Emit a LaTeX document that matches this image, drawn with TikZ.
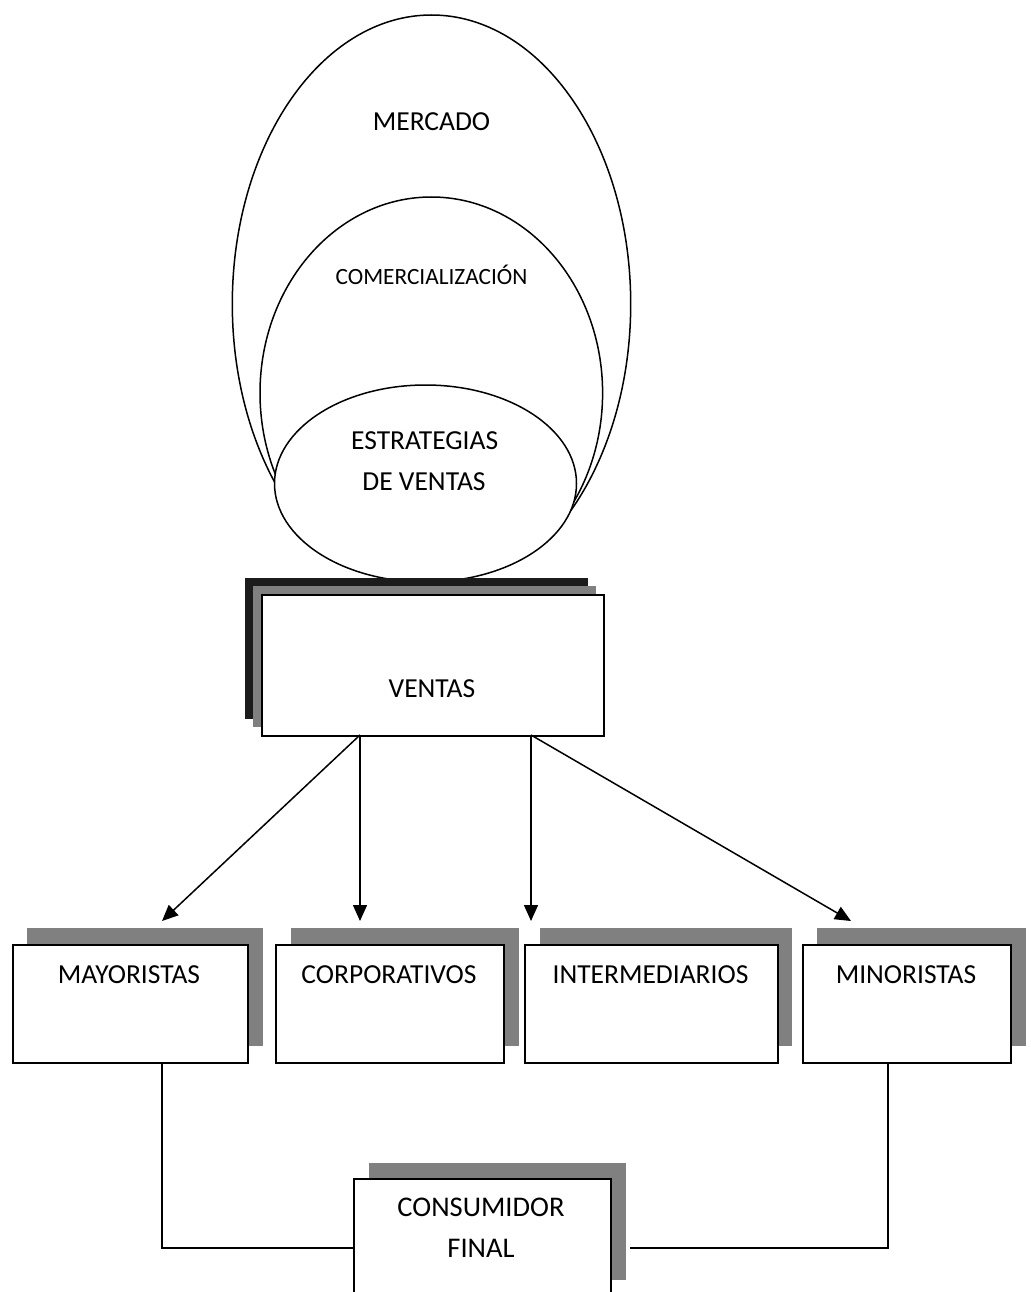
\documentclass[tikz,border=0pt]{standalone}
\usepackage{fontspec}
\setmainfont{Carlito}
\usetikzlibrary{arrows.meta,shapes.geometric}
\definecolor{shadowgray}{HTML}{808080}
\definecolor{darkshadow}{HTML}{1C1C1C}
\begin{document}
\begin{tikzpicture}[x=1pt,y=-1pt,
  oval/.style={ellipse, draw=black, line width=1.5pt, inner sep=0pt},
  boxline/.style={rectangle, draw=black, line width=1.8pt, fill=white, inner sep=0pt, anchor=north west},
  shadebox/.style={rectangle, fill=shadowgray, draw=none, inner sep=0pt, anchor=north west},
  darkbox/.style={rectangle, fill=darkshadow, draw=none, inner sep=0pt, anchor=north west},
  lbl/.style={anchor=base, inner sep=0pt, font=\fontsize{27.5}{33}\selectfont},
  lblbig/.style={anchor=base, inner sep=0pt, font=\fontsize{28.5}{34}\selectfont},
  lblsmall/.style={anchor=base, inner sep=0pt, font=\fontsize{23.3}{28}\selectfont},
  arr/.style={line width=1.5pt, -{Triangle[length=16pt,width=14pt]}},
  link/.style={line width=1.5pt}]
\useasboundingbox (0,0) rectangle (1030,1292);
\clip (0,0) rectangle (1030,1292);
\fill[white] (0,0) rectangle (1030,1292);

% nested ellipses
\begin{scope}
  \clip (0,0) rectangle (1030,511);
  \node[oval, minimum width=398.4pt, minimum height=578pt] (mercado) at (431.5,304) {};
  \node[oval, minimum width=342.6pt, minimum height=392pt] (comerc) at (431.3,393) {};
\end{scope}
\node[oval, fill=white, minimum width=302pt, minimum height=197pt] (estrat) at (425.5,483.5) {};

\node[lbl] (tmercado) at (431.5,130.2) {MERCADO};
\node[lblsmall] (tcomerc) at (431.5,284) {COMERCIALIZACIÓN};
\node[lbl] (testrat1) at (424.7,449.7) {ESTRATEGIAS};
\node[lbl] (testrat2) at (424,490.4) {DE VENTAS};

% VENTAS box with stacked shadows
\node[darkbox, minimum width=343pt, minimum height=141pt] (vsh1) at (245,578) {};
\node[shadebox, minimum width=343pt, minimum height=141pt] (vsh2) at (253,586) {};
\node[boxline, minimum width=342pt, minimum height=141pt] (ventas) at (261,594) {};
\node[lbl] (tventas) at (432,697.4) {VENTAS};

% lower boxes: shadows
\node[shadebox, minimum width=236pt, minimum height=118pt] (sh1) at (27,928) {};
\node[shadebox, minimum width=228pt, minimum height=118pt] (sh2) at (291,928) {};
\node[shadebox, minimum width=252pt, minimum height=118pt] (sh3) at (540,928) {};
\node[shadebox, minimum width=209pt, minimum height=118pt] (sh4) at (817,928) {};
\node[shadebox, minimum width=257pt, minimum height=117pt] (sh5) at (369,1163) {};

% lower boxes
\node[boxline, minimum width=235pt, minimum height=118pt] (may) at (12,944) {};
\node[boxline, minimum width=228pt, minimum height=118pt] (corp) at (275,944) {};
\node[boxline, minimum width=253pt, minimum height=118pt] (inter) at (524,944) {};
\node[boxline, minimum width=208pt, minimum height=118pt] (mino) at (802,944) {};
\node[boxline, minimum width=257pt, minimum height=140pt] (cons) at (353,1178) {};

\node[lbl] (tmay) at (129,983) {MAYORISTAS};
\node[lbl] (tcorp) at (389,983) {CORPORATIVOS};
\node[lbl] (tinter) at (650.5,983) {INTERMEDIARIOS};
\node[lbl] (tmino) at (906,983) {MINORISTAS};
\node[lblbig] (tcons1) at (481,1216.5) {CONSUMIDOR};
\node[lblbig] (tcons2) at (481,1257.5) {FINAL};

% arrows from VENTAS
\coordinate (v1) at (360,735);
\coordinate (v2) at (531,735);
\coordinate (a1) at (162,921);
\coordinate (a2) at (360,921);
\coordinate (a3) at (531,921);
\coordinate (a4) at (851,921);
\draw[arr] (v1) -- (a1);
\draw[arr] (v1) -- (a2);
\draw[arr] (v2) -- (a3);
\draw[arr] (v2) -- (a4);

% links to CONSUMIDOR FINAL
\coordinate (m1) at (162,1062);
\coordinate (c1) at (353,1248);
\coordinate (m2) at (888,1062);
\coordinate (c2) at (630,1248);
\draw[link] (m1) |- (c1);
\draw[link] (m2) |- (c2);
\end{tikzpicture}
\end{document}
